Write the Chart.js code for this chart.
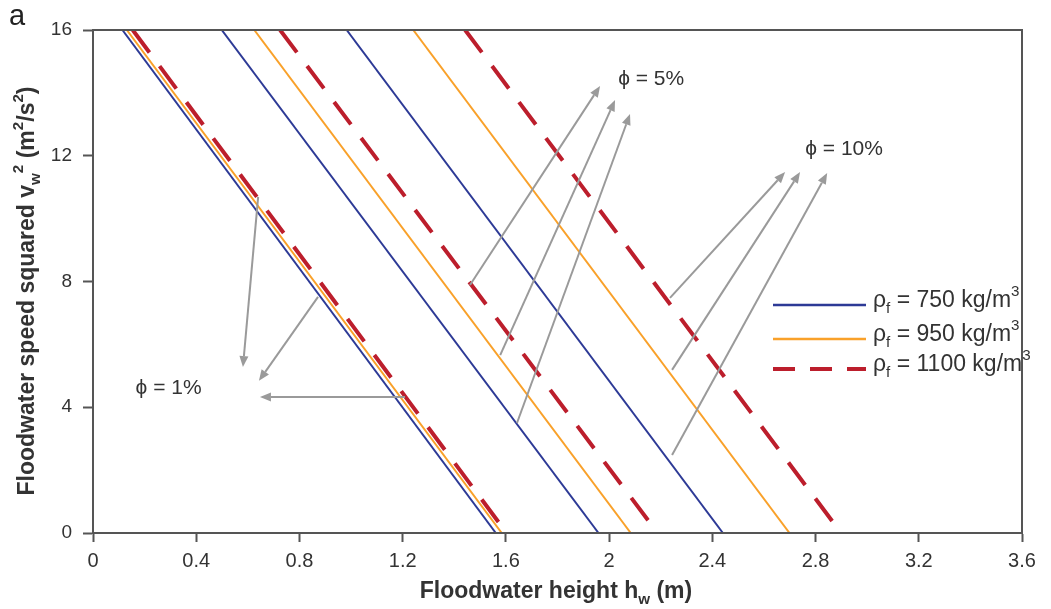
<!DOCTYPE html>
<html>
<head>
<meta charset="utf-8">
<script src="https://cdn.jsdelivr.net/npm/chart.js@4/dist/chart.umd.min.js"></script>
<style>
  body { margin: 0; background: #fff; }
  #wrap { width: 1051px; height: 609px; position: relative; }
</style>
</head>
<body>
<div id="wrap"><canvas id="floodChart"></canvas></div>
<script>
// speed squared at the two ends of every line (m2/s2)
const speedSqEnds = [16, 0];
// porosity of each line group
const porosities = ['1%', '5%', '10%'];
// floodwater height (m) at v2 = 16 and at v2 = 0, one pair per porosity
const h750 = [[0.114, 1.561], [0.499, 1.959], [0.983, 2.441]];
const h950 = [[0.131, 1.584], [0.625, 2.084], [1.241, 2.699]];
const h1100 = [[0.154, 1.603], [0.725, 2.188], [1.442, 2.899]];
const xTicks = ['0', '0.4', '0.8', '1.2', '1.6', '2', '2.4', '2.8', '3.2', '3.6'];
const yTicks = ['0', '4', '8', '12', '16'];

// arrows (tail x, tail y, head x, head y) in data units
const arrows1 = [[0.640, 10.69, 0.581, 5.28], [0.872, 7.51, 0.643, 4.84], [1.209, 4.33, 0.647, 4.33]];
const arrows5 = [[1.461, 7.89, 1.965, 14.22], [1.578, 5.66, 2.023, 13.77], [1.643, 3.50, 2.081, 13.33]];
const arrows10 = [[2.236, 7.48, 2.682, 11.48], [2.244, 5.19, 2.740, 11.48], [2.244, 2.48, 2.845, 11.45]];
const phiLabels = [['\u03d5 = 1%', 0.165, 4.6], ['\u03d5 = 5%', 2.035, 14.45], ['\u03d5 = 10%', 2.760, 12.2]];

const BLUE = '#2d3a96', ORANGE = '#f9a12a', RED = '#bc1e2c';
const AXIS = '#555555', TEXT = '#333333', ARROW = '#9a9a9a';
const FONT = '"Liberation Sans", Arial, sans-serif';

function lineSets(pairs, color, dashed, name) {
    return pairs.map((p, i) => ({
        label: name + ' ' + porosities[i],
        data: [{ x: p[0], y: speedSqEnds[0] }, { x: p[1], y: speedSqEnds[1] }],
        borderColor: color,
        borderWidth: dashed ? 4 : 2,
        borderDash: dashed ? [28, 17] : [],
        borderCapStyle: 'butt',
        pointRadius: 0,
        showLine: true,
        fill: false
    }));
}

// draws text made of normal / sub / sup pieces
function drawRich(ctx, parts, x, y, size, bold, align) {
    const w = bold ? 'bold ' : '';
    let total = 0;
    parts.forEach(p => {
        const s = (p.sub || p.sup) ? size * 0.66 : size;
        ctx.font = w + s + 'px ' + FONT;
        p.w = ctx.measureText(p.t).width;
        p.s = s;
        total += p.w;
    });
    let cx = align === 'center' ? x - total / 2 : x;
    ctx.textAlign = 'left';
    ctx.textBaseline = 'middle';
    parts.forEach(p => {
        ctx.font = w + p.s + 'px ' + FONT;
        const dy = p.sub ? size * 0.32 : p.sup ? -size * 0.38 : 0;
        ctx.fillText(p.t, cx, y + dy);
        cx += p.w;
    });
}

function drawArrow(ctx, x1, y1, x2, y2) {
    const ang = Math.atan2(y2 - y1, x2 - x1);
    const len = 11, half = 4.5;
    const bx = x2 - len * Math.cos(ang), by = y2 - len * Math.sin(ang);
    ctx.beginPath();
    ctx.moveTo(x1, y1);
    ctx.lineTo(bx, by);
    ctx.stroke();
    ctx.beginPath();
    ctx.moveTo(x2, y2);
    ctx.lineTo(bx + half * Math.sin(ang), by - half * Math.cos(ang));
    ctx.lineTo(bx - half * Math.sin(ang), by + half * Math.cos(ang));
    ctx.closePath();
    ctx.fill();
}

const extras = {
    id: 'extras',
    afterDraw(chart) {
        const ctx = chart.ctx;
        const xs = chart.scales.x, ys = chart.scales.y;
        const a = chart.chartArea;
        ctx.save();

        // frame
        ctx.strokeStyle = AXIS;
        ctx.lineWidth = 2;
        ctx.strokeRect(a.left, a.top, a.right - a.left, a.bottom - a.top);

        // arrows
        ctx.strokeStyle = ARROW;
        ctx.fillStyle = ARROW;
        ctx.lineWidth = 2;
        [arrows1, arrows5, arrows10].forEach(group => group.forEach(r => {
            drawArrow(ctx, xs.getPixelForValue(r[0]), ys.getPixelForValue(r[1]),
                xs.getPixelForValue(r[2]), ys.getPixelForValue(r[3]));
        }));

        // porosity labels
        ctx.fillStyle = TEXT;
        phiLabels.forEach(l => {
            drawRich(ctx, [{ t: l[0] }], xs.getPixelForValue(l[1]), ys.getPixelForValue(l[2]), 21, false, 'left');
        });

        // legend
        const leg = [[BLUE, false, '750'], [ORANGE, false, '950'], [RED, true, '1100']];
        leg.forEach((l, i) => {
            const y = [305, 339, 369][i];
            ctx.strokeStyle = l[0];
            ctx.lineWidth = l[1] ? 4 : 2.5;
            ctx.setLineDash(l[1] ? [22, 15] : []);
            ctx.beginPath();
            ctx.moveTo(773, y);
            ctx.lineTo(866, y);
            ctx.stroke();
            ctx.setLineDash([]);
            ctx.fillStyle = TEXT;
            drawRich(ctx, [{ t: '\u03c1' }, { t: 'f', sub: true }, { t: ' = ' + l[2] + ' kg/m' }, { t: '3', sup: true }],
                873, y - 4, 23, false, 'left');
        });

        // axis titles
        drawRich(ctx, [{ t: 'Floodwater height h' }, { t: 'w', sub: true }, { t: ' (m)' }],
            556, 592, 23, true, 'center');
        ctx.translate(28, 291);
        ctx.rotate(-Math.PI / 2);
        drawRich(ctx, [{ t: 'Floodwater speed squared v' }, { t: 'w', sub: true }, { t: '2', sup: true },
            { t: ' (m' }, { t: '2', sup: true }, { t: '/s' }, { t: '2', sup: true }, { t: ')' }],
            0, 0, 23, true, 'center');
        ctx.restore();

        // panel letter
        ctx.save();
        ctx.fillStyle = '#222';
        ctx.font = '29px ' + FONT;
        ctx.textBaseline = 'alphabetic';
        ctx.fillText('a', 9, 25);
        ctx.restore();
    }
};

new Chart(document.getElementById('floodChart'), {
    type: 'scatter',
    data: {
        datasets: [
            ...lineSets(h750, BLUE, false, '750'),
            ...lineSets(h950, ORANGE, false, '950'),
            ...lineSets(h1100, RED, true, '1100')
        ]
    },
    options: {
        responsive: true,
        maintainAspectRatio: false,
        animation: false,
        layout: { padding: { top: 30, right: 29, left: 0, bottom: 0 } },
        plugins: { legend: { display: false }, tooltip: { enabled: false } },
        scales: {
            x: {
                type: 'linear',
                min: 0, max: 3.6,
                afterFit: s => { s.height = 76; },
                afterBuildTicks: s => { s.ticks = xTicks.map(v => ({ value: +v })); },
                ticks: {
                    callback: (v, i) => xTicks[i],
                    color: TEXT, font: { family: FONT, size: 20 }, padding: 7, maxRotation: 0
                },
                grid: { drawOnChartArea: false, color: AXIS, tickLength: 9, tickWidth: 2 },
                border: { color: AXIS, width: 2 }
            },
            y: {
                min: 0, max: 16,
                afterFit: s => { s.width = 93; },
                afterBuildTicks: s => { s.ticks = yTicks.map(v => ({ value: +v })); },
                ticks: {
                    callback: (v, i) => yTicks[i],
                    color: TEXT, font: { family: FONT, size: 19 }, padding: 11
                },
                grid: { drawOnChartArea: false, color: AXIS, tickLength: 10, tickWidth: 2 },
                border: { color: AXIS, width: 2 }
            }
        }
    },
    plugins: [extras]
});
</script>
</body>
</html>
